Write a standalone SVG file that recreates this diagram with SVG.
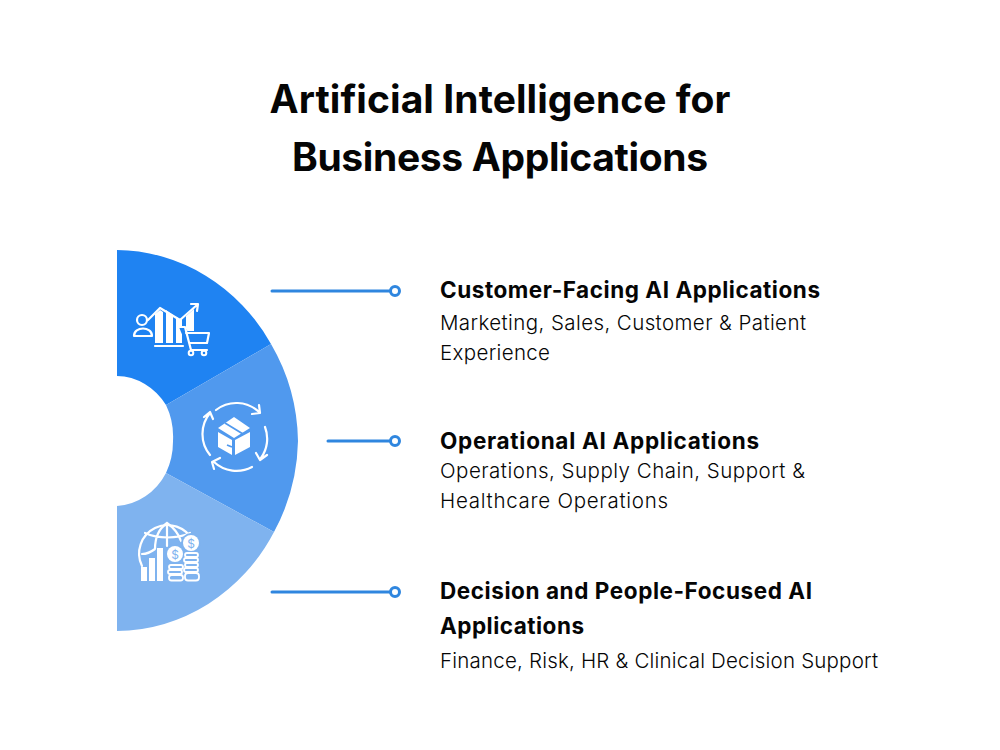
<svg xmlns="http://www.w3.org/2000/svg" width="1000" height="750" viewBox="0 0 1000 750">
<style>
text{font-family:"Inter","Liberation Sans",sans-serif;fill:#050505}
.t{font-size:39px;font-weight:700;text-anchor:middle}
.h{font-size:22.5px;font-weight:700}
.b{font-size:20.5px;font-weight:300}
.c{fill:none;stroke:#2f86df;stroke-width:3;stroke-linecap:round}
.d{fill:#fff;stroke:#2f86df;stroke-width:3}
.w{fill:none;stroke:#fff;stroke-width:2.2;stroke-linecap:round;stroke-linejoin:round}
.f{fill:#fff}
.p{fill:#7fb3ef;stroke:#fff;stroke-width:1.8}
</style>
<rect width="1000" height="750" fill="#fff"/>
<text class="t" x="500" y="113" textLength="461">Artificial Intelligence for</text>
<text class="t" x="500" y="171" textLength="416">Business Applications</text>
<g id="segment-customer">
<path d="M117 250A181 191 0 0 1 271 344L166 405A60 65 0 0 0 117 376Z" fill="#1f83f2"/>
<g class="w"><circle cx="142" cy="320" r="5"/><path d="M134 336c0-10 18-10 18 0zM148 320l12-12 20 12 17-15M191 304l7 0-1 7M155 346h28"/></g>
<path class="f" d="M155 314l5-4 3 2V343H155ZM166 310l7 5V343H166ZM176 317l4 2 2-1V343H176ZM186 316l8-7V331H186Z"/>
<path d="M179 327h6l3 5h22l-3 12h-17l-2 4-7-16Z" fill="#1f83f2"/>
<g class="w"><path d="M179 327h6l6 23h16M186 333h23l-2 10h-17"/></g>
<circle cx="191" cy="353" r="2.3" fill="none" stroke="#fff" stroke-width="2"/><circle cx="204" cy="353" r="2.3" fill="none" stroke="#fff" stroke-width="2"/>
</g>
<g id="segment-operational">
<path d="M166 405L271 344A181 191 0 0 1 298 441A181 191 0 0 1 274 532L166 473A56 65 0 0 0 173 441A56 65 0 0 0 166 405Z" fill="#5099ee"/>
<g transform="translate(2 0)">
<g class="w"><path d="M214 410A33 33 0 0 1 257 412M250 414l8-1-1-8M263 427A33 33 0 0 1 259 458M254 453l4 7 7-5M250 467A33 33 0 0 1 212 462M218 458l-8 4 2 7M208 455A33 33 0 0 1 208 413M202 417l6-5 3 7"/></g>
<path class="f" d="M232 417l16 11-16 10-16-10zM216 432l14 8v15l-14-8zM248 432l-15 8v15l15-8z"/>
<path d="M223 423l18 11M225 445l5 2" fill="none" stroke="#5099ee" stroke-width="1.8"/>
</g>
</g>
<g id="segment-decision">
<path d="M166 473L274 532A181 191 0 0 1 117 631V506A60 65 0 0 0 166 473Z" fill="#7fb3ef"/>
<g class="w"><path d="M142 566A27 27 0 1 1 193 541"/><path d="M167 523C157 530 155 540 155 549M167 523C177 530 180 538 181 541M167 523V546M145 533c13 6 32 6 45 0M142 554c5 0 9-2 13-5"/></g>
<g class="f"><rect x="141" y="567" width="6" height="14"/><rect x="149" y="558" width="6" height="23"/><rect x="157" y="548" width="6" height="33"/></g>
<g>
<circle cx="175" cy="554" r="10" fill="#7fb3ef"/><circle cx="191" cy="543" r="10" fill="#7fb3ef"/>
<rect class="p" x="169" y="565" width="14" height="4" rx="2"/><rect class="p" x="168" y="570" width="14" height="4" rx="2"/><rect class="p" x="169" y="575" width="14" height="5.5" rx="2.5"/>
<rect class="p" x="185" y="553" width="13" height="4" rx="2"/><rect class="p" x="184" y="558" width="14" height="4" rx="2"/><rect class="p" x="185" y="563" width="13" height="4" rx="2"/><rect class="p" x="184" y="568" width="14" height="4" rx="2"/><rect class="p" x="185" y="573" width="14" height="7.5" rx="3"/>
<circle cx="175" cy="554" r="8" fill="#fff"/><circle cx="191" cy="543" r="8" fill="#fff"/>
<text x="175" y="558.5" font-size="12" text-anchor="middle" style="fill:#7fb3ef">$</text><text x="191" y="547.5" font-size="12" text-anchor="middle" style="fill:#7fb3ef">$</text>
</g>
</g>
<g id="connectors">
<path class="c" d="M272 291H390M328 441H390M272 592H390"/>
<circle class="d" cx="395" cy="291" r="4.5"/><circle class="d" cx="395" cy="441" r="4.5"/><circle class="d" cx="395" cy="592" r="4.5"/>
</g>
<g id="label-customer">
<text class="h" x="440" y="297.5" textLength="380">Customer-Facing AI Applications</text>
<text class="b" x="440" y="330" textLength="366">Marketing, Sales, Customer &amp; Patient</text>
<text class="b" x="440" y="360" textLength="110">Experience</text>
</g>
<g id="label-operational">
<text class="h" x="440" y="448.5" textLength="319">Operational AI Applications</text>
<text class="b" x="440" y="477.5" textLength="365">Operations, Supply Chain, Support &amp;</text>
<text class="b" x="440" y="507.5" textLength="228">Healthcare Operations</text>
</g>
<g id="label-decision">
<text class="h" x="440" y="598.5" textLength="372">Decision and People-Focused AI</text>
<text class="h" x="440" y="633.5" textLength="144">Applications</text>
<text class="b" x="440" y="668" textLength="438">Finance, Risk, HR &amp; Clinical Decision Support</text>
</g>
</svg>
